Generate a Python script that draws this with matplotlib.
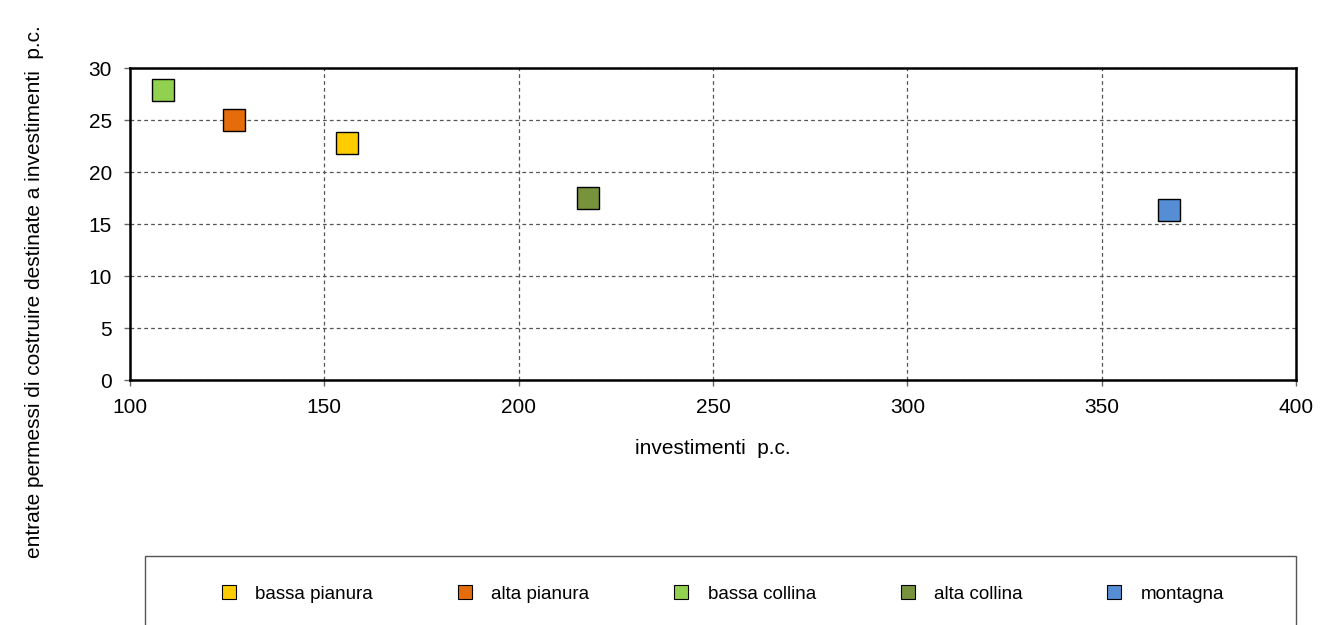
import matplotlib.pyplot as plt
from matplotlib.lines import Line2D
from matplotlib.patches import Rectangle

plt.rcParams['font.family'] = ['Liberation Sans', 'DejaVu Sans']

# data
zones = ['bassa pianura', 'alta pianura', 'bassa collina', 'alta collina', 'montagna']
invest = [155.8, 126.8, 108.5, 217.8, 367.3]
entrate = [22.8, 25.0, 27.9, 17.5, 16.3]
colors = ['#FFCC00', '#E46C0A', '#92D050', '#77933C', '#558ED5']

W, H = 1341, 625
fig = plt.figure(figsize=(W / 100, H / 100), dpi=100)
ax = fig.add_axes([130 / W, 1 - 380 / H, (1296 - 130) / W, (380 - 68) / H])

for x, y, c in zip(invest, entrate, colors):
    ax.plot(x, y, 's', ms=15.5, color=c, mec='black', mew=1.0, zorder=3, clip_on=False)

ax.set_xlim(100, 400)
ax.set_ylim(0, 30)
ax.set_xticks(range(100, 401, 50))
ax.set_yticks(range(0, 31, 5))
ax.grid(True, color='#555555', ls=(0, (3, 2.5)), lw=0.9)
ax.tick_params(labelsize=15, length=4, width=1, color='#666666', direction='out')
ax.tick_params(axis='x', pad=9)
ax.tick_params(axis='y', pad=9)
for side in ['left', 'top', 'right', 'bottom']:
    ax.spines[side].set_linewidth(1.8)

ax.set_xlabel('investimenti  p.c.', fontsize=15, labelpad=16)
fig.text(35 / W, 1 - 292 / H, 'entrate permessi di costruire destinate a investimenti  p.c.',
         rotation=90, ha='center', va='center', fontsize=15)

# legend box
fig.patches.append(Rectangle((145 / W, -0.05), (1296 - 145) / W, (H - 556) / H + 0.05,
                             transform=fig.transFigure, fill=False, ec='#555555', lw=1.0))
handles = [Line2D([], [], marker='s', ls='none', ms=10, color=c, mec='black', mew=0.8)
           for c in colors]
fig.legend(handles, zones, loc='center', bbox_to_anchor=(722 / W, 1 - 594 / H), ncol=5,
           frameon=False, fontsize=13.5, columnspacing=4.4, handletextpad=0.9, handlelength=1.0)

fig.savefig('out.png', dpi=100)
